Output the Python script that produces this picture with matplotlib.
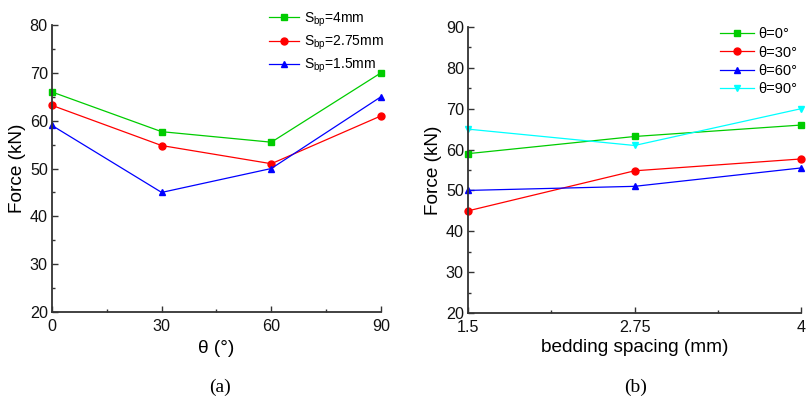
import matplotlib
matplotlib.use("Agg")
import matplotlib.pyplot as plt
from matplotlib.ticker import MultipleLocator, FixedLocator

plt.rcParams['font.family'] = ['Liberation Sans', 'DejaVu Sans']
plt.rcParams['mathtext.fontset'] = 'custom'
plt.rcParams['mathtext.rm'] = 'Liberation Sans'
plt.rcParams['mathtext.it'] = 'Liberation Sans:italic'

# Peak force (kN) vs bedding angle for each bedding spacing
theta = [0, 30, 60, 90]
force_sbp_4 = [66.0, 57.7, 55.5, 70.0]
force_sbp_275 = [63.2, 54.8, 51.0, 61.0]
force_sbp_15 = [59.0, 45.0, 50.0, 65.0]

# Peak force (kN) vs bedding spacing for each bedding angle
spacing = [1.5, 2.75, 4.0]
spacing_labels = ["1.5", "2.75", "4"]
force_theta_0 = [59.0, 63.2, 66.0]
force_theta_30 = [45.0, 54.8, 57.7]
force_theta_60 = [50.0, 51.0, 55.5]
force_theta_90 = [65.0, 61.0, 70.0]

GREEN = "#00cc00"
RED = "#ff0000"
BLUE = "#0000ff"
CYAN = "#00ffff"
SPINE = "#333333"

fig = plt.figure(figsize=(8.07, 3.97), dpi=100)
ax1 = fig.add_axes([0.0644, 0.2141, 0.4077, 0.7229])
ax2 = fig.add_axes([0.580, 0.2116, 0.4126, 0.7204])


def style(ax):
    for side in ("top", "right"):
        ax.spines[side].set_visible(False)
    for side in ("left", "bottom"):
        ax.spines[side].set_color(SPINE)
        ax.spines[side].set_linewidth(1.3)
    ax.tick_params(which="both", direction="in", colors=SPINE,
                   labelcolor="#111111", labelsize=11.6, width=1.0)
    ax.tick_params(which="major", length=4)
    ax.tick_params(which="minor", length=2.5)
    ax.tick_params(axis="x", pad=5)
    ax.tick_params(axis="y", pad=3)


mk = dict(lw=0.9, ms=5, clip_on=False)

ax1.plot(theta, force_sbp_4, color=GREEN, marker="s", label=r"S$_{\mathrm{bp}}$=4mm", **mk)
ax1.plot(theta, force_sbp_275, color=RED, marker="o", label=r"S$_{\mathrm{bp}}$=2.75mm", **mk)
ax1.plot(theta, force_sbp_15, color=BLUE, marker="^", label=r"S$_{\mathrm{bp}}$=1.5mm", **mk)
ax1.set_xlim(0, 90)
ax1.set_ylim(20, 80)
ax1.xaxis.set_major_locator(MultipleLocator(30))
ax1.xaxis.set_minor_locator(MultipleLocator(15))
ax1.yaxis.set_major_locator(MultipleLocator(10))
ax1.yaxis.set_minor_locator(MultipleLocator(5))
style(ax1)
ax1.set_xlabel("θ (°)", fontsize=13.7, labelpad=4)
ax1.set_ylabel("Force (kN)", fontsize=13.7, labelpad=3)
ax1.legend(loc="upper right", bbox_to_anchor=(1.04, 1.085), frameon=False,
           fontsize=10, handlelength=2.15, handletextpad=0.4,
           labelspacing=0.35, borderpad=0.2)

ax2.plot(spacing, force_theta_0, color=GREEN, marker="s", label="θ=0°", **mk)
ax2.plot(spacing, force_theta_30, color=RED, marker="o", label="θ=30°", **mk)
ax2.plot(spacing, force_theta_60, color=BLUE, marker="^", label="θ=60°", **mk)
ax2.plot(spacing, force_theta_90, color=CYAN, marker="v", label="θ=90°", **mk)
ax2.set_xlim(1.5, 4.0)
ax2.set_ylim(20, 90)
ax2.xaxis.set_major_locator(FixedLocator(spacing))
ax2.set_xticklabels(spacing_labels)
ax2.xaxis.set_minor_locator(FixedLocator([2.125, 3.375]))
ax2.yaxis.set_major_locator(MultipleLocator(10))
ax2.yaxis.set_minor_locator(MultipleLocator(5))
style(ax2)
ax2.set_xlabel("bedding spacing (mm)", fontsize=13.7, labelpad=3)
ax2.set_ylabel("Force (kN)", fontsize=13.7, labelpad=3)
ax2.legend(loc="upper right", bbox_to_anchor=(1.02, 1.035), frameon=False,
           fontsize=10.5, handlelength=2.35, handletextpad=0.3,
           labelspacing=0.3, borderpad=0.2)

fig.text(0.2726, 0.025, "(a)", fontsize=14, family=["Liberation Serif", "DejaVu Serif"],
         ha="center", va="center")
fig.text(0.787, 0.025, "(b)", fontsize=14, family=["Liberation Serif", "DejaVu Serif"],
         ha="center", va="center")

fig.savefig("out.png", dpi=100)
